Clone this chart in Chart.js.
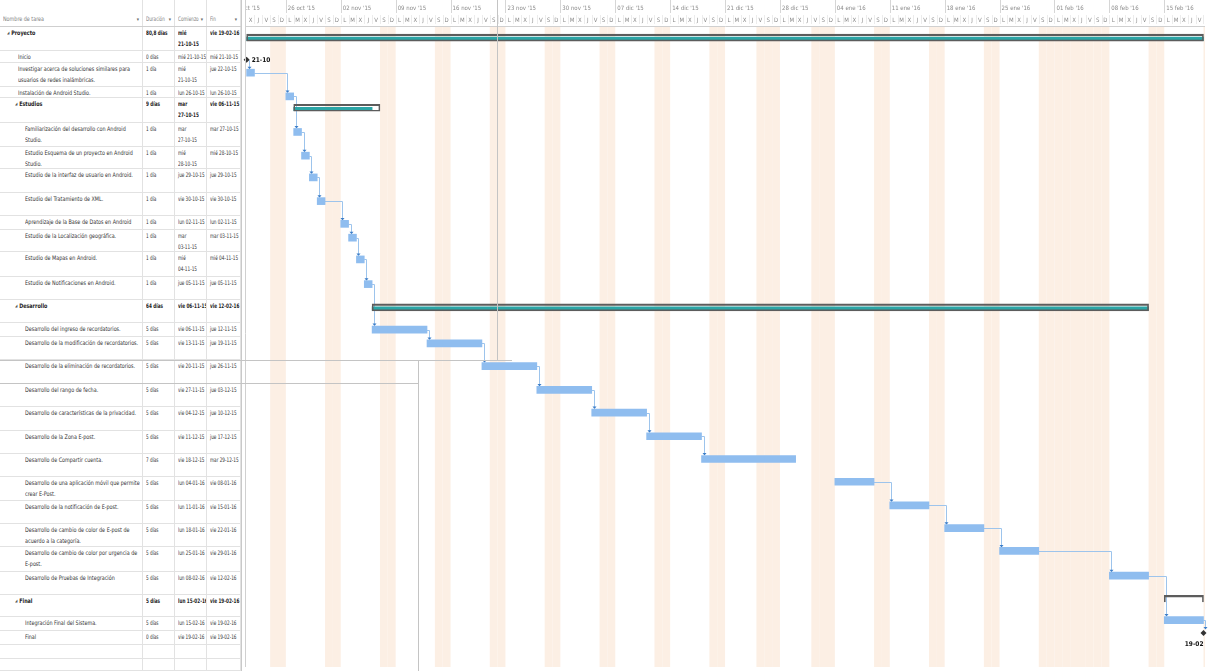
<!DOCTYPE html>
<html lang="es">
<head>
    <meta charset="UTF-8">
    <title>Proyecto - Diagrama de Gantt</title>
    <script src="https://cdn.jsdelivr.net/npm/chart.js@4.4.0/dist/chart.umd.min.js"></script>
    <style>
        body {
            margin: 0;
            background: #fff;
            font-family: "DejaVu Sans Condensed", "Liberation Sans Narrow", Arial, sans-serif;
            color: #333;
        }
        #wrap {
            position: relative;
            width: 1209px;
            height: 671px;
            overflow: hidden;
        }
        #grid {
            position: absolute;
            left: 0;
            top: 0;
            width: 242px;
            height: 671px;
            border-right: 1px solid #c9c9c9;
            box-sizing: border-box;
        }
        .row {
            position: absolute;
            left: 0;
            width: 241px;
            border-bottom: 1px solid #e2e2e2;
            box-sizing: border-box;
        }
        .cell {
            position: absolute;
            top: 0;
            bottom: 0;
            border-right: 1px solid #e2e2e2;
            box-sizing: border-box;
            font-size: 6.2px;
            line-height: 10.5px;
            padding: 1px 1px 0 3px;
            overflow: hidden;
        }
        .in {
            transform-origin: 0 0;
        }
        .nowrap { white-space: nowrap; }
        .bold { font-weight: bold; color: #222; }
        .head .cell {
            color: #808080;
            padding-top: 14px;
            white-space: nowrap;
        }
        .head { border-bottom: 1px solid #cfcfcf; }
        .arrow {
            position: absolute;
            right: 3px;
            top: 14px;
            font-size: 5px;
            color: #666;
        }
        .tri {
            font-size: 4px;
            color: #555;
            margin-right: 2px;
            vertical-align: 1px;
        }
        #gantt {
            position: absolute;
            left: 242px;
            top: 0;
        }
        .art {
            position: absolute;
            background: #c4c4c4;
            pointer-events: none;
        }
    </style>
</head>
<body>
<div id="wrap">
    <div id="grid"></div>
    <canvas id="gantt" width="967" height="671"></canvas>
    <!-- lineas del recorte de pantalla -->
    <div class="art" style="left:497px; top:0; width:1px; height:360px;"></div>
    <div class="art" style="left:0; top:360px; width:512px; height:1px;"></div>
    <div class="art" style="left:418px; top:360px; width:1px; height:311px;"></div>
    <div class="art" style="left:0; top:383px; width:418px; height:1px;"></div>
</div>

<script>
    // Datos de las tareas
    const names = [
        'Proyecto', 'Inicio',
        'Investigar acerca de soluciones similares para usuarios de redes inalámbricas.',
        'Instalación de Android Studio.', 'Estudios',
        'Familiarización del desarrollo con Android Studio.',
        'Estudio Esquema de un proyecto en Android Studio.',
        'Estudio de la interfaz de usuario en Android.',
        'Estudio del Tratamiento de XML.',
        'Aprendizaje de la Base de Datos en Android',
        'Estudio de la Localización geográfica.',
        'Estudio de Mapas en Android.',
        'Estudio de Notificaciones en Android.',
        'Desarrollo',
        'Desarrollo del ingreso de recordatorios.',
        'Desarrollo de la modificación de recordatorios.',
        'Desarrollo de la eliminación de recordatorios.',
        'Desarrollo del rango de fecha.',
        'Desarrollo de características de la privacidad.',
        'Desarrollo de la Zona E-post.',
        'Desarrollo de Compartir cuenta.',
        'Desarrollo de una aplicación móvil que permite crear E-Post.',
        'Desarrollo de la notificación de E-post.',
        'Desarrollo de cambio de color de E-post de acuerdo a la categoría.',
        'Desarrollo de cambio de color por urgencia de E-post.',
        'Desarrollo de Pruebas de Integración',
        'Final', 'Integración Final del Sistema.', 'Final'
    ];
    const levels = [0, 1, 1, 1, 1, 2, 2, 2, 2, 2, 2, 2, 2, 1, 2, 2, 2, 2, 2, 2, 2, 2, 2, 2, 2, 2, 1, 2, 2];
    const summaries = [0, 4, 13, 26];
    const durations = [
        '80,8 días', '0 días', '1 día', '1 día', '9 días', '1 día', '1 día', '1 día', '1 día', '1 día',
        '1 día', '1 día', '1 día', '64 días', '5 días', '5 días', '5 días', '5 días', '5 días', '5 días',
        '7 días', '5 días', '5 días', '5 días', '5 días', '5 días', '5 días', '5 días', '0 días'
    ];
    const starts = [
        'mié 21-10-15', 'mié 21-10-15', 'mié 21-10-15', 'lun 26-10-15', 'mar 27-10-15', 'mar 27-10-15',
        'mié 28-10-15', 'jue 29-10-15', 'vie 30-10-15', 'lun 02-11-15', 'mar 03-11-15', 'mié 04-11-15',
        'jue 05-11-15', 'vie 06-11-15', 'vie 06-11-15', 'vie 13-11-15', 'vie 20-11-15', 'vie 27-11-15',
        'vie 04-12-15', 'vie 11-12-15', 'vie 18-12-15', 'lun 04-01-16', 'lun 11-01-16', 'lun 18-01-16',
        'lun 25-01-16', 'lun 08-02-16', 'lun 15-02-16', 'lun 15-02-16', 'vie 19-02-16'
    ];
    const ends = [
        'vie 19-02-16', 'mié 21-10-15', 'jue 22-10-15', 'lun 26-10-15', 'vie 06-11-15', 'mar 27-10-15',
        'mié 28-10-15', 'jue 29-10-15', 'vie 30-10-15', 'lun 02-11-15', 'mar 03-11-15', 'mié 04-11-15',
        'jue 05-11-15', 'vie 12-02-16', 'jue 12-11-15', 'jue 19-11-15', 'jue 26-11-15', 'jue 03-12-15',
        'jue 10-12-15', 'jue 17-12-15', 'mar 29-12-15', 'vie 08-01-16', 'vie 15-01-16', 'vie 22-01-16',
        'vie 29-01-16', 'vie 12-02-16', 'vie 19-02-16', 'vie 19-02-16', 'vie 19-02-16'
    ];
    // predecesora de cada tarea (-1 = ninguna)
    const preds = [-1, -1, 1, 2, -1, 3, 5, 6, 7, 8, 9, 10, 11, -1, 12, 14, 15, 16, 17, 18, 19, -1, 21, 22, 23, 24, -1, 25, 27];
    // fin de la barra turquesa de las tareas de resumen
    const summaryFillEnd = { 0: 'vie 19-02-16', 4: 'jue 05-11-15', 13: 'vie 12-02-16' };
    const holidays = ['25-12-15', '01-01-16', '01-02-16', '02-02-16', '03-02-16', '04-02-16', '05-02-16'];

    // escala de tiempo
    const weekLabels = ["19 oct '15", "26 oct '15", "02 nov '15", "09 nov '15", "16 nov '15", "23 nov '15",
        "30 nov '15", "07 dic '15", "14 dic '15", "21 dic '15", "28 dic '15", "04 ene '16", "11 ene '16",
        "18 ene '16", "25 ene '16", "01 feb '16", "08 feb '16", "15 feb '16"];
    const dayLetters = ['D', 'L', 'M', 'X', 'J', 'V', 'S'];
    const headers = ['Nombre de tarea', 'Duración', 'Comienzo', 'Fin'];

    // layout
    const HEADER_H = 27;
    const SQUEEZE_NAME = 0.87;
    const SQUEEZE_DATE = 0.75;
    const rowHeights = [24, 12, 24, 11, 25, 24, 22, 24, 23, 14, 22, 25, 23, 23, 14, 23, 24, 23, 24, 23, 23, 24, 23, 23, 25, 23, 22, 14, 14, 14, 12];
    const cols = [{ left: 0, width: 143 }, { left: 143, width: 32 }, { left: 175, width: 32 }, { left: 207, width: 34 }];
    const rowTops = [];
    let acc = 0;
    rowHeights.forEach(h => { rowTops.push(acc); acc += h; });
    const BODY_H = acc;

    const ORIGIN = Date.UTC(2015, 9, 21);
    const DAY = 86400000;
    function dayIndex(str) {
        const m = str.match(/(\d\d)-(\d\d)-(\d\d)/);
        return Math.round((Date.UTC(2000 + +m[3], +m[2] - 1, +m[1]) - ORIGIN) / DAY);
    }
    function weekday(d) {
        return new Date(ORIGIN + d * DAY).getUTCDay();
    }
    const holidayIdx = holidays.map(dayIndex);
    function isWorking(d) {
        const w = weekday(d);
        return w !== 0 && w !== 6 && !holidayIdx.includes(d);
    }
    function addWork(s, n) {
        let d = s, c = 0;
        while (c < n) { if (isWorking(d)) c++; d++; }
        return d;
    }

    // ---- tabla ----
    const grid = document.getElementById('grid');
    function makeRow(top, h, cls) {
        const r = document.createElement('div');
        r.className = 'row ' + (cls || '');
        r.style.top = top + 'px';
        r.style.height = h + 'px';
        grid.appendChild(r);
        return r;
    }
    function makeCell(row, c, html, cls, padLeft, extra) {
        const el = document.createElement('div');
        el.className = 'cell ' + (cls || '');
        el.style.left = cols[c].left + 'px';
        el.style.width = cols[c].width + 'px';
        const pl = padLeft || 3;
        const sq = c === 0 ? SQUEEZE_NAME : SQUEEZE_DATE;
        el.style.paddingLeft = pl + 'px';
        const inner = document.createElement('div');
        inner.className = 'in';
        inner.style.transform = 'scaleX(' + sq + ')';
        inner.style.width = ((cols[c].width - pl - 1) / sq) + 'px';
        inner.innerHTML = html;
        el.appendChild(inner);
        if (extra) el.insertAdjacentHTML('beforeend', extra);
        row.appendChild(el);
        return el;
    }
    const head = makeRow(0, HEADER_H, 'head');
    headers.forEach((t, c) => makeCell(head, c, t, '', 3, '<span class="arrow">▾</span>'));

    rowHeights.forEach((h, i) => {
        const r = makeRow(HEADER_H + rowTops[i], h);
        if (i >= names.length) {
            cols.forEach((_, c) => makeCell(r, c, ''));
            return;
        }
        const isSum = summaries.includes(i);
        const b = isSum ? ' bold' : '';
        let pad;
        if (isSum) pad = levels[i] === 0 ? 7 : 15;
        else pad = levels[i] === 1 ? 18 : 25;
        makeCell(r, 0, (isSum ? '<span class="tri">◢</span>' : '') + names[i], b, pad);
        makeCell(r, 1, durations[i], 'nowrap' + b);
        const wrapStart = /^(mié|mar)/.test(starts[i]) && h >= 20;
        makeCell(r, 2, wrapStart ? starts[i].replace(' ', '<br>') : starts[i], (wrapStart ? '' : 'nowrap') + b);
        makeCell(r, 3, ends[i], 'nowrap' + b);
    });

    // ---- datos del gantt ----
    const taskBars = [], outlineBars = [], fillBars = [], milestonePts = [];
    const barStart = [], barEnd = [], barMid = [], barTop = [];
    names.forEach((n, i) => {
        const s = dayIndex(starts[i]);
        const e = dayIndex(ends[i]);
        const top = rowTops[i];
        if (summaries.includes(i)) {
            const hasFill = summaryFillEnd[i] !== undefined;
            outlineBars.push({ x: [s, e + 1], y: top + 7, bracket: !hasFill });
            if (hasFill) fillBars.push({ x: [s, dayIndex(summaryFillEnd[i]) + 1], y: top + 8.3 });
            barStart[i] = s; barEnd[i] = e + 1; barMid[i] = top + 7; barTop[i] = top + 3.5;
        } else if (parseFloat(durations[i]) === 0) {
            const x = preds[i] >= 0 ? barEnd[preds[i]] : s;
            milestonePts.push({ x: x, y: top + 5.5, label: ends[i].slice(4, 9) });
            barStart[i] = x; barEnd[i] = x; barMid[i] = top + 5.5; barTop[i] = top + 2;
        } else {
            const end = addWork(s, parseFloat(durations[i]));
            taskBars.push({ x: [s, end], y: top + 6.5 });
            barStart[i] = s; barEnd[i] = end; barMid[i] = top + 6.5; barTop[i] = top + 3;
        }
    });

    const PAD_LEFT = 3;
    const X_MIN = -0.08;
    const X_MAX = X_MIN + 964 / 7.884;
    const FONT = '"DejaVu Sans Condensed", Arial, sans-serif';

    const ganttDecor = {
        id: 'ganttDecor',
        beforeDatasetsDraw(chart) {
            const { ctx, chartArea, scales: { x, y } } = chart;
            ctx.save();
            // fines de semana y festivos
            ctx.fillStyle = '#fcefe4';
            for (let d = 0; d < X_MAX; d++) {
                if (!isWorking(d)) {
                    const x0 = x.getPixelForValue(d), x1 = Math.min(x.getPixelForValue(d + 1), chartArea.right);
                    ctx.fillRect(x0, HEADER_H, x1 - x0, chartArea.bottom - HEADER_H);
                }
            }
            // vinculos
            ctx.lineWidth = 1;
            preds.forEach((p, i) => {
                if (p < 0) return;
                const px = x.getPixelForValue(barEnd[p]);
                const py = y.getPixelForValue(barMid[p]);
                const vx = Math.round(Math.max(x.getPixelForValue(barStart[i]) + 1.5, px + 2)) + 0.5;
                const ty = y.getPixelForValue(barTop[i]);
                ctx.strokeStyle = '#9dc4ec';
                ctx.beginPath();
                ctx.moveTo(px, Math.round(py) + 0.5);
                ctx.lineTo(vx, Math.round(py) + 0.5);
                ctx.lineTo(vx, ty - 1);
                ctx.stroke();
                ctx.fillStyle = '#3b7dc8';
                ctx.beginPath();
                ctx.moveTo(vx - 2, ty - 2.5);
                ctx.lineTo(vx + 2, ty - 2.5);
                ctx.lineTo(vx, ty);
                ctx.closePath();
                ctx.fill();
            });
            ctx.restore();
        },
        afterDatasetsDraw(chart) {
            const { ctx, chartArea, scales: { x, y } } = chart;
            ctx.save();
            ctx.fillStyle = '#111';
            ctx.font = 'bold 6.5px ' + FONT;
            milestonePts.forEach(m => {
                const px = x.getPixelForValue(m.x), py = y.getPixelForValue(m.y);
                const w = ctx.measureText(m.label).width;
                if (px + 5 + w > chartArea.right) {
                    ctx.textAlign = 'right';
                    ctx.textBaseline = 'top';
                    ctx.fillText(m.label, px, py + 8);
                } else {
                    ctx.textAlign = 'left';
                    ctx.textBaseline = 'middle';
                    ctx.fillText(m.label, px + 5, py);
                }
            });
            ctx.restore();
        },
        afterDraw(chart) {
            const { ctx, chartArea, scales: { x } } = chart;
            ctx.save();
            ctx.fillStyle = '#fff';
            ctx.fillRect(0, 0, chartArea.right, HEADER_H);
            ctx.beginPath();
            ctx.rect(chartArea.left, 0, chartArea.right - chartArea.left, HEADER_H);
            ctx.clip();
            ctx.font = '6px ' + FONT;
            ctx.textBaseline = 'middle';
            let w = 0;
            for (let d = -7; d < X_MAX; d++) {
                const x0 = x.getPixelForValue(d);
                const x1 = x.getPixelForValue(d + 1);
                if (weekday(d) === 1) {
                    ctx.strokeStyle = '#d6d6d6';
                    ctx.beginPath();
                    ctx.moveTo(Math.round(x0) + 0.5, 0);
                    ctx.lineTo(Math.round(x0) + 0.5, 13);
                    ctx.stroke();
                    ctx.fillStyle = '#8a8a8a';
                    ctx.textAlign = 'left';
                    if (weekLabels[w]) ctx.fillText(weekLabels[w], x0 + 2, 8);
                    w++;
                }
                if (d >= 0) {
                    ctx.strokeStyle = '#ececec';
                    ctx.beginPath();
                    ctx.moveTo(Math.round(x1) + 0.5, 15);
                    ctx.lineTo(Math.round(x1) + 0.5, 24);
                    ctx.stroke();
                }
                ctx.fillStyle = '#8a8a8a';
                ctx.textAlign = 'center';
                ctx.fillText(dayLetters[weekday(d)], (x0 + x1) / 2, 20);
            }
            ctx.restore();
            ctx.save();
            ctx.strokeStyle = '#d0d0d0';
            ctx.beginPath();
            ctx.moveTo(chartArea.left, HEADER_H - 0.5);
            ctx.lineTo(chartArea.right, HEADER_H - 0.5);
            ctx.moveTo(chartArea.left - 0.5, 0);
            ctx.lineTo(chartArea.left - 0.5, chartArea.bottom);
            ctx.stroke();
            ctx.restore();
        }
    };

    const ctx = document.getElementById('gantt').getContext('2d');
    new Chart(ctx, {
        type: 'bar',
        data: {
            datasets: [
                {
                    label: 'Tareas',
                    data: taskBars,
                    backgroundColor: '#8fbdef',
                    borderWidth: 0,
                    barThickness: 7,
                    grouped: false
                },
                {
                    label: 'Resumen',
                    data: outlineBars,
                    backgroundColor: 'rgba(0,0,0,0)',
                    borderColor: '#5c5c5c',
                    borderWidth: c => c.raw && c.raw.bracket
                        ? { top: 1.5, left: 1, right: 1, bottom: 0 }
                        : { top: 1.5, left: 1, right: 1, bottom: 1 },
                    borderSkipped: false,
                    barThickness: 7,
                    grouped: false
                },
                {
                    label: 'Resumen relleno',
                    data: fillBars,
                    backgroundColor: '#2ba5a6',
                    borderWidth: 0,
                    barThickness: 3.5,
                    grouped: false
                },
                {
                    type: 'scatter',
                    label: 'Hitos',
                    data: milestonePts,
                    pointStyle: 'rectRot',
                    pointRadius: 3,
                    backgroundColor: '#333',
                    borderColor: '#333',
                    borderWidth: 0,
                    clip: false
                }
            ]
        },
        options: {
            indexAxis: 'y',
            responsive: false,
            animation: false,
            events: [],
            layout: { padding: { left: PAD_LEFT, right: 0, top: 0, bottom: 0 } },
            scales: {
                x: { type: 'linear', min: X_MIN, max: X_MAX, display: false, offset: false },
                y: { type: 'linear', min: -HEADER_H, max: BODY_H, reverse: true, display: false, offset: false }
            },
            plugins: {
                legend: { display: false },
                tooltip: { enabled: false }
            }
        },
        plugins: [ganttDecor]
    });
</script>
</body>
</html>
